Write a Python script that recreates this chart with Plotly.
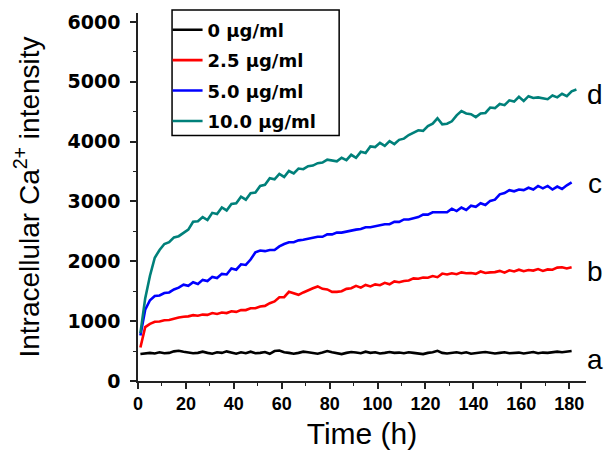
import plotly.graph_objects as go

time_h = [1 + 2 * i for i in range(92)]

conc_labels = ["0 µg/ml", "2.5 µg/ml", "5.0 µg/ml", "10.0 µg/ml"]
curve_letters = ["a", "b", "c", "d"]
letter_y = [363, 1834, 3304, 4793]

ca_0 = [450, 455, 470, 460, 480, 465, 470, 495, 505, 490,
        480, 465, 470, 490, 470, 455, 480, 470, 495, 470,
        455, 480, 465, 490, 465, 470, 485, 455, 500, 510,
        480, 470, 455, 470, 490, 480, 465, 455, 475, 500,
        480, 470, 450, 470, 485, 475, 465, 490, 470, 480,
        460, 470, 485, 470, 475, 465, 480, 470, 455, 450,
        470, 480, 505, 470, 460, 470, 480, 465, 480, 455,
        470, 475, 485, 470, 460, 470, 480, 465, 470, 475,
        460, 470, 485, 465, 475, 470, 480, 490, 480, 490, 500]

ca_25 = [560, 900, 955, 990, 995, 1015, 1020, 1045, 1060, 1075,
         1080, 1100, 1090, 1110, 1105, 1135, 1120, 1145, 1135, 1165,
         1155, 1185, 1185, 1215, 1215, 1245, 1255, 1300, 1330, 1400,
         1400, 1490, 1460, 1440, 1480, 1520, 1550, 1580, 1540, 1530,
         1490, 1490, 1500, 1540, 1550, 1590, 1560, 1605, 1580, 1615,
         1600, 1640, 1615, 1665, 1650, 1670, 1680, 1715, 1710, 1730,
         1725, 1755, 1735, 1795, 1780, 1800, 1785, 1815, 1800, 1805,
         1790, 1830, 1805, 1815, 1820, 1840, 1810, 1850, 1830, 1860,
         1835, 1855, 1845, 1870, 1840, 1865, 1860, 1895, 1900, 1880, 1900]

ca_50 = [760, 1190, 1350, 1420, 1430, 1470, 1480, 1530, 1560, 1610,
         1590, 1650, 1620, 1690, 1670, 1740, 1720, 1790, 1780, 1880,
         1860, 1950, 1940, 2030, 2150, 2180, 2170, 2190, 2190, 2250,
         2290, 2320, 2320, 2350, 2360, 2380, 2390, 2410, 2410, 2450,
         2450, 2480, 2480, 2500, 2510, 2530, 2540, 2570, 2570, 2590,
         2600, 2620, 2620, 2660, 2660, 2700, 2700, 2720, 2740, 2780,
         2780, 2820, 2820, 2830, 2820, 2880, 2840, 2900, 2860, 2930,
         2910, 2970, 2940, 3010, 3030, 3120, 3140, 3190, 3170, 3200,
         3190, 3230, 3200, 3260, 3220, 3260, 3200, 3250, 3210, 3270, 3320]

ca_100 = [800, 1380, 1760, 2060, 2190, 2290, 2320, 2400, 2420, 2480,
          2530, 2660, 2670, 2740, 2690, 2810, 2790, 2900, 2850, 2960,
          2970, 3080, 3030, 3140, 3150, 3260, 3280, 3390, 3370, 3460,
          3410, 3510, 3470, 3550, 3540, 3590, 3600, 3640, 3650, 3700,
          3680, 3670, 3730, 3690, 3780, 3730, 3830, 3810, 3920, 3910,
          3980, 3930, 4010, 3960, 4030, 4050, 4110, 4150, 4190, 4180,
          4260, 4300, 4390, 4290, 4300, 4340, 4440, 4510, 4470, 4460,
          4410, 4470, 4480, 4570, 4560, 4630, 4610, 4690, 4670, 4750,
          4680, 4760, 4730, 4740, 4730, 4710, 4770, 4740, 4800, 4760,
          4840, 4870]

series = [ca_0, ca_25, ca_50, ca_100]
colors = ["#000000", "#ff0000", "#0000ff", "#00807a"]

fig = go.Figure()
for name, vals, col in zip(conc_labels, series, colors):
    fig.add_trace(go.Scatter(
        x=time_h[:len(vals)], y=vals, mode="lines", name=name,
        legendgroup=name,
        line=dict(color=col, width=2.6),
    ))

for letter, ly in zip(curve_letters, letter_y):
    fig.add_annotation(
        x=1.02, xref="paper", y=ly, yref="y", text=letter, showarrow=False,
        xanchor="center", yanchor="middle",
        font=dict(family="Liberation Sans, Arial", size=28, color="#000000"),
    )

# legend frame (drawn as a shape so its size matches the original box)
fig.add_shape(type="rect", xref="paper", yref="paper",
              x0=0.076, x1=0.449, y0=0.667, y1=1.008,
              line=dict(color="#000000", width=1.5), fillcolor="white",
              layer="below")

fig.update_layout(
    width=606, height=459,
    margin=dict(l=138, r=20, t=13, b=78, autoexpand=False),
    paper_bgcolor="white", plot_bgcolor="white",
    showlegend=True,
    legend=dict(
        x=0.066, y=1.004, xanchor="left", yanchor="top",
        bgcolor="rgba(0,0,0,0)", borderwidth=0,
        font=dict(family="DejaVu Sans", size=18, color="#000000", weight="bold"),
        tracegroupgap=4,
    ),
)

fig.update_xaxes(
    range=[0, 187], showgrid=False, zeroline=False, automargin=False,
    showline=True, linecolor="#222222", linewidth=1.6,
    ticks="outside", ticklen=6, tickwidth=1.6, tickcolor="#222222",
    tickmode="array", tickvals=list(range(0, 181, 20)),
    minor=dict(ticks="outside", ticklen=3.5, tickwidth=1.4, tickcolor="#222222",
               tickmode="array", tickvals=list(range(10, 181, 20))),
    tickfont=dict(family="Liberation Sans, Arial", size=18, color="#000000", weight="bold"),
    title=dict(text="Time (h)", standoff=10,
               font=dict(family="Liberation Sans, Arial", size=30, color="#000000")),
)

fig.update_yaxes(
    range=[0, 6150], showgrid=False, zeroline=False, automargin=False,
    showline=True, linecolor="#222222", linewidth=1.6,
    ticks="outside", ticklen=6, tickwidth=1.6, tickcolor="#222222",
    ticklabelstandoff=6,
    tickmode="array", tickvals=list(range(0, 6001, 1000)),
    minor=dict(ticks="outside", ticklen=3.5, tickwidth=1.4, tickcolor="#222222",
               tickmode="array", tickvals=list(range(500, 6001, 1000))),
    tickfont=dict(family="DejaVu Sans", size=19, color="#000000", weight="bold"),
    title=dict(text="Intracellular Ca<sup>2+</sup> intensity", standoff=20,
               font=dict(family="Liberation Sans, Arial", size=28, color="#000000")),
)

fig.write_html("out.html", config={"displayModeBar": False},
               post_script="document.body.style.margin='0';document.body.style.overflow='hidden';")
